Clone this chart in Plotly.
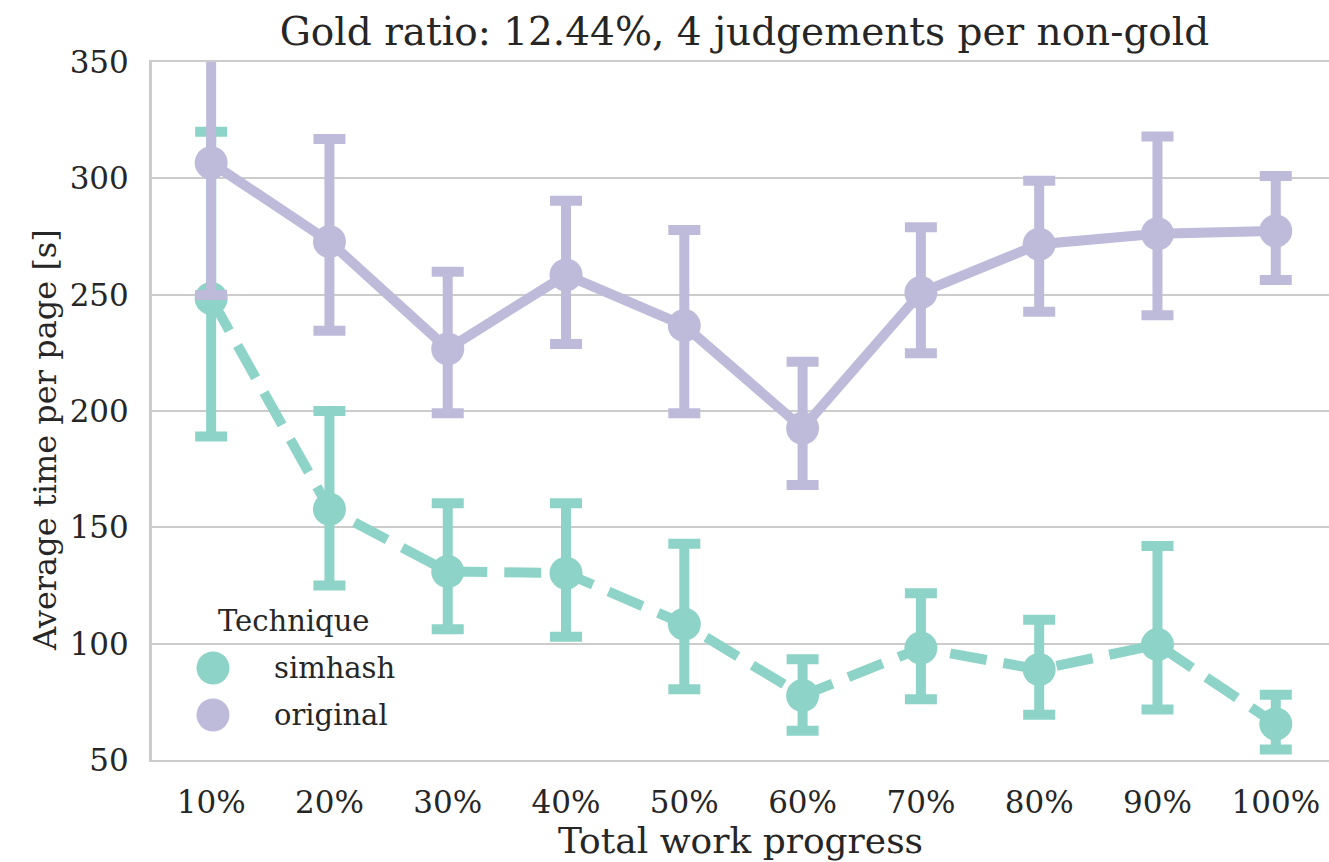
import plotly.graph_objects as go

# Work progress buckets
progress = ["10%", "20%", "30%", "40%", "50%", "60%", "70%", "80%", "90%", "100%"]

# simhash: mean time per page and confidence interval bounds [s]
simhash_mean = [248.4, 157.8, 131.0, 130.3, 108.4, 77.7, 98.1, 88.9, 99.6, 65.5]
simhash_hi = [320.0, 200.0, 160.3, 160.3, 142.9, 93.3, 121.7, 110.3, 142.0, 78.0]
simhash_lo = [189.0, 125.0, 106.2, 103.0, 80.4, 62.6, 76.1, 69.5, 71.7, 54.5]

# original: mean time per page and confidence interval bounds [s]
original_mean = [306.7, 272.8, 226.7, 258.5, 236.7, 192.6, 250.9, 271.7, 276.2, 277.4]
original_hi = [372.0, 316.9, 259.9, 290.4, 277.8, 221.2, 279.0, 299.0, 318.0, 301.0]
original_lo = [249.9, 234.5, 199.0, 228.8, 199.0, 168.2, 224.8, 242.7, 241.1, 256.3]

y_ticks = [50, 100, 150, 200, 250, 300, 350]

GREEN = "#8dd3c7"
PURPLE = "#bebada"
TEXT = "#262626"
GRID = "#cccccc"
FONT = "DejaVu Serif"

W, H = 1329, 862
ML, MR, MT, MB = 152, 0, 62, 102


def series(name, mean, hi, lo, color, dash):
    return go.Scatter(
        x=progress,
        y=mean,
        name=name,
        mode="lines+markers",
        line=dict(color=color, width=10, dash=dash),
        marker=dict(color=color, size=33, line=dict(width=0)),
        error_y=dict(
            type="data",
            symmetric=False,
            array=[h - m for h, m in zip(hi, mean)],
            arrayminus=[m - l for m, l in zip(mean, lo)],
            color=color,
            thickness=10,
            width=16,
        ),
        showlegend=False,
    )


fig = go.Figure()
fig.add_trace(series("simhash", simhash_mean, simhash_hi, simhash_lo, GREEN, "37px,17px"))
fig.add_trace(series("original", original_mean, original_hi, original_lo, PURPLE, "solid"))

fig.update_layout(
    width=W,
    height=H,
    margin=dict(l=ML, r=MR, t=MT, b=MB, pad=0),
    paper_bgcolor="white",
    plot_bgcolor="white",
    font=dict(family=FONT, color=TEXT, size=31),
    title=dict(
        text="Gold ratio: 12.44%, 4 judgements per non-gold",
        font=dict(family=FONT, size=39, color=TEXT),
        xref="paper",
        x=(744.5 - ML) / (W - ML - MR),
        xanchor="center",
        yref="container",
        y=1 - 31 / H,
        yanchor="middle",
    ),
    xaxis=dict(
        type="category",
        range=[-0.5, 9.45],
        showgrid=False,
        zeroline=False,
        showline=True,
        mirror=True,
        linecolor=GRID,
        linewidth=2,
        ticks="",
        ticklabelstandoff=14,
        tickfont=dict(family=FONT, size=31, color=TEXT),
        title=dict(text="Total work progress", font=dict(family=FONT, size=36, color=TEXT), standoff=8),
    ),
    yaxis=dict(
        range=[50, 350],
        tickvals=y_ticks,
        showgrid=True,
        gridcolor=GRID,
        gridwidth=2,
        zeroline=False,
        showline=True,
        linecolor=GRID,
        linewidth=3,
        ticks="",
        ticklabelstandoff=14,
        tickfont=dict(family=FONT, size=31, color=TEXT),
    ),
)

# y-axis label
fig.add_annotation(
    text="Average time per page [s]",
    xref="paper", yref="paper",
    x=-(ML - 45) / (W - ML - MR), y=1 - (440 - MT) / (H - MT - MB),
    xanchor="center", yanchor="middle",
    textangle=-90, showarrow=False,
    font=dict(family=FONT, size=32, color=TEXT),
)

# Legend: title, circular swatches and labels
def px_x(px):
    return (px - ML) / (W - ML - MR)


def px_y(py):
    return 1 - (py - MT) / (H - MT - MB)


fig.add_annotation(
    text="Technique", xref="paper", yref="paper",
    x=px_x(294), y=px_y(621), xanchor="center", yanchor="middle",
    showarrow=False, font=dict(family=FONT, size=29, color=TEXT),
)
for label, color, cy in [("simhash", GREEN, 668), ("original", PURPLE, 715)]:
    fig.add_shape(
        type="circle", xref="paper", yref="paper",
        xsizemode="pixel", ysizemode="pixel",
        xanchor=px_x(213), yanchor=px_y(cy),
        x0=-16.5, x1=16.5, y0=-16.5, y1=16.5,
        fillcolor=color, line=dict(width=0), layer="above",
    )
    fig.add_annotation(
        text=label, xref="paper", yref="paper",
        x=px_x(272), y=px_y(cy), xanchor="left", yanchor="middle",
        showarrow=False, font=dict(family=FONT, size=29, color=TEXT),
    )

fig.write_html("out.html")
